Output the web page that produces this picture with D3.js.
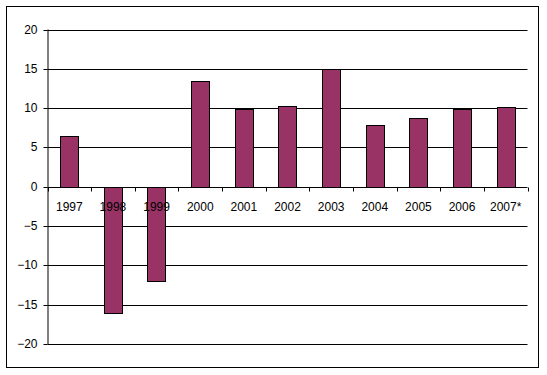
<!DOCTYPE html>
<html>
<head>
<meta charset="utf-8">
<script src="https://cdn.jsdelivr.net/npm/d3@7"></script>
<style>
  body { margin: 0; background: #fff; }
  svg text { font-family: "Liberation Sans", Arial, sans-serif; font-size: 12px; fill: #000; }
</style>
</head>
<body>
<div id="chart"></div>
<script>
// years on the category axis
const years = ['1997', '1998', '1999', '2000', '2001', '2002', '2003', '2004', '2005', '2006', '2007*'];
// growth values
const values = [6.4, -16.1, -12.0, 13.4, 9.9, 10.3, 15.0, 7.8, 8.8, 9.9, 10.1];
const yTicks = [-20, -15, -10, -5, 0, 5, 10, 15, 20];

const width = 547, height = 375;
const margin = {top: 29.5, right: 19.5, bottom: 30.5, left: 47.5};

const svg = d3.select('#chart').append('svg')
  .attr('width', width)
  .attr('height', height);

// outer chart frame
svg.append('rect')
  .attr('x', 6.5).attr('y', 6.5)
  .attr('width', 532).attr('height', 361)
  .attr('fill', '#fff')
  .attr('stroke', '#000')
  .attr('stroke-width', 1);

const x = d3.scaleBand()
  .domain(years)
  .range([margin.left, width - margin.right])
  .paddingInner(0.58)
  .paddingOuter(0.29);

const y = d3.scaleLinear()
  .domain([-20, 20])
  .range([height - margin.bottom - 0.7, margin.top]);

// gridlines
svg.append('g')
  .selectAll('line')
  .data(yTicks)
  .join('line')
  .attr('x1', margin.left)
  .attr('x2', width - margin.right)
  .attr('y1', d => Math.round(y(d)) + 0.5)
  .attr('y2', d => Math.round(y(d)) + 0.5)
  .attr('stroke', '#000');

// y axis
const yAxis = d3.axisLeft(y)
  .tickValues(yTicks)
  .tickSize(4)
  .tickPadding(6)
  .tickFormat(d3.format('d'));

svg.append('g')
  .attr('transform', `translate(${margin.left},0)`)
  .call(yAxis)
  .call(g => g.select('.domain').attr('stroke', '#000').attr('d', `M0.5,${y(20)}V${y(-20) + 0.5}`))
  .call(g => g.selectAll('.tick').attr('transform', d => `translate(0,${Math.round(y(d)) + 0.5})`))
  .call(g => g.selectAll('.tick line').attr('stroke', '#000'))
  .call(g => g.selectAll('.tick text').attr('font-size', 12).attr('font-family', '"Liberation Sans", Arial, sans-serif'));

// bars
svg.append('g')
  .selectAll('rect')
  .data(years.map((yr, i) => ({year: yr, value: values[i]})))
  .join('rect')
  .attr('x', d => Math.round(x(d.year)) + 0.5)
  .attr('width', Math.round(x.bandwidth()))
  .attr('y', d => Math.round(y(Math.max(0, d.value))) + 0.5)
  .attr('height', d => Math.abs(Math.round(y(d.value)) - Math.round(y(0))))
  .attr('fill', '#993366')
  .attr('stroke', '#000')
  .attr('stroke-width', 1);

// category axis along zero with ticks between categories
const zeroY = Math.round(y(0)) + 0.5;
const boundaries = d3.range(years.length + 1).map(i => margin.left + i * (width - margin.left - margin.right) / years.length);

svg.append('g')
  .selectAll('line')
  .data(boundaries)
  .join('line')
  .attr('x1', d => Math.round(d) + 0.5)
  .attr('x2', d => Math.round(d) + 0.5)
  .attr('y1', zeroY)
  .attr('y2', zeroY + 4)
  .attr('stroke', '#000');

svg.append('g')
  .selectAll('text')
  .data(years)
  .join('text')
  .attr('x', d => x(d) + x.bandwidth() / 2)
  .attr('y', zeroY + 23)
  .attr('text-anchor', 'middle')
  .text(d => d);
</script>
</body>
</html>
